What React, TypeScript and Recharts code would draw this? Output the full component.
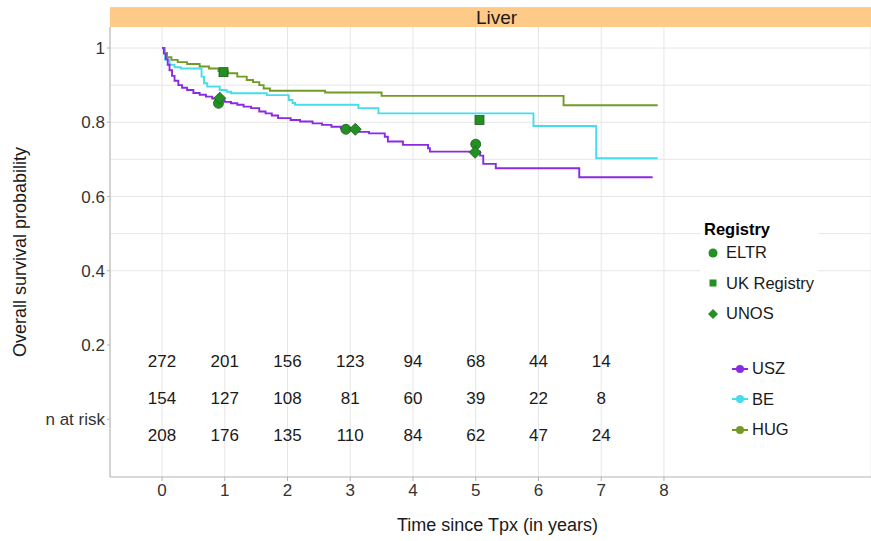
import React from 'react';
import { ComposedChart, Line, Scatter, XAxis, YAxis, CartesianGrid } from 'recharts';

// Kaplan-Meier curves (time in years, survival probability)
const uszTime = [0, 0.03, 0.06, 0.09, 0.12, 0.16, 0.2, 0.26, 0.32, 0.4, 0.5, 0.6, 0.7, 0.8, 0.9, 1.0, 1.1, 1.2, 1.3, 1.42, 1.55, 1.65, 1.75, 1.85, 2.05, 2.2, 2.4, 2.55, 2.7, 2.85, 3.0, 3.1, 3.3, 3.55, 3.6, 3.84, 4.24, 4.27, 5.07, 5.12, 5.32, 6.65, 7.82];
const uszSurv = [1, 0.985, 0.97, 0.955, 0.94, 0.925, 0.912, 0.9, 0.893, 0.887, 0.879, 0.874, 0.869, 0.864, 0.859, 0.855, 0.851, 0.847, 0.842, 0.838, 0.829, 0.824, 0.818, 0.811, 0.806, 0.802, 0.797, 0.793, 0.788, 0.784, 0.779, 0.774, 0.77, 0.761, 0.748, 0.739, 0.73, 0.721, 0.71, 0.688, 0.676, 0.652, 0.652];

const beTime = [0, 0.05, 0.12, 0.2, 0.3, 0.63, 0.67, 0.72, 0.92, 1.03, 1.1, 1.67, 2.02, 2.08, 2.12, 3.13, 3.45, 5.92, 6.92, 7.9];
const beSurv = [1, 0.968, 0.955, 0.948, 0.945, 0.923, 0.905, 0.896, 0.887, 0.882, 0.878, 0.873, 0.86, 0.852, 0.847, 0.838, 0.824, 0.79, 0.703, 0.703];

const hugTime = [0, 0.03, 0.08, 0.15, 0.25, 0.4, 0.6, 0.75, 0.9, 1.05, 1.2, 1.35, 1.45, 1.55, 1.62, 1.72, 2.6, 3.5, 6.4, 7.9];
const hugSurv = [1, 0.987, 0.975, 0.968, 0.962, 0.957, 0.95, 0.945, 0.938, 0.932, 0.923, 0.914, 0.908, 0.9, 0.891, 0.885, 0.88, 0.871, 0.846, 0.846];

// registry reference points
const eltrTime = [0.9, 2.93, 5.0];
const eltrSurv = [0.851, 0.781, 0.741];
const ukTime = [0.98, 5.06];
const ukSurv = [0.935, 0.806];
const unosTime = [0.92, 3.08, 4.99];
const unosSurv = [0.865, 0.781, 0.719];

// n at risk table
const riskTimes = [0, 1, 2, 3, 4, 5, 6, 7];
const riskUSZ = [272, 201, 156, 123, 94, 68, 44, 14];
const riskBE = [154, 127, 108, 81, 60, 39, 22, 8];
const riskHUG = [208, 176, 135, 110, 84, 62, 47, 24];

const xTicks = [0, 1, 2, 3, 4, 5, 6, 7, 8];
const yTicks = [0, 0.2, 0.4, 0.6, 0.8, 1];
const gridY = [0.4, 0.5, 0.6, 0.7, 0.8, 0.9, 1];

const FONT = '"Liberation Sans", Arial, Helvetica, sans-serif';
const C_USZ = '#8A2BE2';
const C_BE = '#45DDEB';
const C_HUG = '#729A26';
const C_REG = '#239023';
const C_REG_EDGE = '#1B5E1B';

// rows of the risk table, in survival units
const riskRowY = [0.155, 0.055, -0.045];

const curve = (ts: number[], ss: number[]) => ts.map((t, i) => ({ t, s: ss[i] }));
const riskRow = (vals: number[], y: number) => riskTimes.map((t, i) => ({ t, s: y, n: vals[i] }));

const Circle = (p: any) => (
  <circle cx={p.cx} cy={p.cy} r={5} fill={C_REG} stroke={C_REG_EDGE} strokeWidth={0.8} />
);
const Square = (p: any) => (
  <rect x={p.cx - 4.5} y={p.cy - 4.5} width={9} height={9} fill={C_REG} stroke={C_REG_EDGE} strokeWidth={0.8} />
);
const Diamond = (p: any) => (
  <polygon
    points={`${p.cx},${p.cy - 6} ${p.cx + 6},${p.cy} ${p.cx},${p.cy + 6} ${p.cx - 6},${p.cy}`}
    fill={C_REG}
    stroke={C_REG_EDGE}
    strokeWidth={0.8}
  />
);
const RiskText = (p: any) => (
  <text x={p.cx} y={p.cy} textAnchor="middle" dominantBaseline="central" fontSize={17} fill="#1a1a1a" fontFamily={FONT}>
    {p.payload?.n}
  </text>
);

const regItems = [
  { label: 'ELTR', shape: 'circle' },
  { label: 'UK Registry', shape: 'square' },
  { label: 'UNOS', shape: 'diamond' },
];
const siteItems = [
  { label: 'USZ', color: C_USZ },
  { label: 'BE', color: C_BE },
  { label: 'HUG', color: C_HUG },
];

function RegIcon({ shape }: { shape: string }) {
  return (
    <svg width={14} height={14} style={{ display: 'block' }}>
      {shape === 'circle' && <circle cx={7} cy={7} r={4.5} fill={C_REG} />}
      {shape === 'square' && <rect x={3.5} y={3.5} width={7} height={7} fill={C_REG} />}
      {shape === 'diamond' && <polygon points="7,2 12,7 7,12 2,7" fill={C_REG} />}
    </svg>
  );
}

export default function App() {
  return (
    <div style={{ position: 'absolute', left: 0, top: 0, width: 871, height: 541, fontFamily: FONT, background: '#fff' }}>
      <ComposedChart width={871} height={541} margin={{ top: 27, right: 0, bottom: 34, left: 0 }}>
        <CartesianGrid horizontalValues={gridY} stroke="#e6e6e6" strokeWidth={1} />
        <XAxis
          type="number"
          dataKey="t"
          domain={[-0.829, 11.3]}
          ticks={xTicks}
          allowDataOverflow
          height={30}
          tickSize={4}
          tickMargin={3}
          stroke="#b3b3b3"
          tick={{ fill: '#333', fontSize: 17, fontFamily: FONT }}
        />
        <YAxis
          type="number"
          dataKey="s"
          domain={[-0.1556, 1.0566]}
          ticks={yTicks}
          allowDataOverflow
          width={110}
          tickSize={3}
          tickMargin={2}
          stroke="#b3b3b3"
          tick={{ fill: '#333', fontSize: 17, fontFamily: FONT }}
          tickFormatter={(v: number) => (v === 0 ? 'n at risk' : String(v))}
        />
        <Line data={curve(hugTime, hugSurv)} dataKey="s" type="stepAfter" stroke={C_HUG} strokeWidth={1.9} dot={false} isAnimationActive={false} />
        <Line data={curve(beTime, beSurv)} dataKey="s" type="stepAfter" stroke={C_BE} strokeWidth={1.9} dot={false} isAnimationActive={false} />
        <Line data={curve(uszTime, uszSurv)} dataKey="s" type="stepAfter" stroke={C_USZ} strokeWidth={1.9} dot={false} isAnimationActive={false} />
        <Scatter data={curve(eltrTime, eltrSurv)} dataKey="s" shape={Circle} isAnimationActive={false} />
        <Scatter data={curve(ukTime, ukSurv)} dataKey="s" shape={Square} isAnimationActive={false} />
        <Scatter data={curve(unosTime, unosSurv)} dataKey="s" shape={Diamond} isAnimationActive={false} />
        <Scatter data={riskRow(riskUSZ, riskRowY[0])} dataKey="s" shape={RiskText} isAnimationActive={false} />
        <Scatter data={riskRow(riskBE, riskRowY[1])} dataKey="s" shape={RiskText} isAnimationActive={false} />
        <Scatter data={riskRow(riskHUG, riskRowY[2])} dataKey="s" shape={RiskText} isAnimationActive={false} />
      </ComposedChart>

      {/* facet strip */}
      <div
        style={{
          position: 'absolute', left: 110, top: 7, width: 761, height: 20, background: '#FFC987',
          borderTop: '1px solid #e0d5c8', boxSizing: 'border-box',
          display: 'flex', alignItems: 'center', justifyContent: 'center', fontSize: 19, color: '#1a1a1a',
          paddingLeft: 12,
        }}
      >
        Liver
      </div>

      {/* axis titles */}
      <div style={{ position: 'absolute', left: 397, top: 515, fontSize: 18, color: '#1a1a1a', whiteSpace: 'nowrap' }}>
        Time since Tpx (in years)
      </div>
      <div
        style={{
          position: 'absolute', left: 20, top: 252, fontSize: 18, color: '#1a1a1a', whiteSpace: 'nowrap',
          transform: 'translate(-50%, -50%) rotate(-90deg)',
        }}
      >
        Overall survival probability
      </div>

      {/* registry legend */}
      <div style={{ position: 'absolute', left: 700, top: 219, width: 118, height: 110, background: '#fff' }}>
        <div style={{ position: 'absolute', left: 4, top: 1, fontSize: 16.5, fontWeight: 'bold', color: '#000' }}>Registry</div>
        {regItems.map((it, i) => (
          <div key={it.label} style={{ position: 'absolute', left: 6, top: 24 + i * 30.5, display: 'flex', alignItems: 'center', fontSize: 16.5, color: '#1a1a1a' }}>
            <RegIcon shape={it.shape} />
            <span style={{ marginLeft: 6 }}>{it.label}</span>
          </div>
        ))}
      </div>

      {/* site legend */}
      {siteItems.map((it, i) => (
        <div key={it.label} style={{ position: 'absolute', left: 731, top: 359 + i * 30.5, display: 'flex', alignItems: 'center', fontSize: 16.5, color: '#1a1a1a' }}>
          <svg width={18} height={14} style={{ display: 'block' }}>
            <line x1={1} y1={7} x2={17} y2={7} stroke={it.color} strokeWidth={2} />
            <circle cx={9} cy={7} r={4} fill={it.color} />
          </svg>
          <span style={{ marginLeft: 3 }}>{it.label}</span>
        </div>
      ))}
    </div>
  );
}
